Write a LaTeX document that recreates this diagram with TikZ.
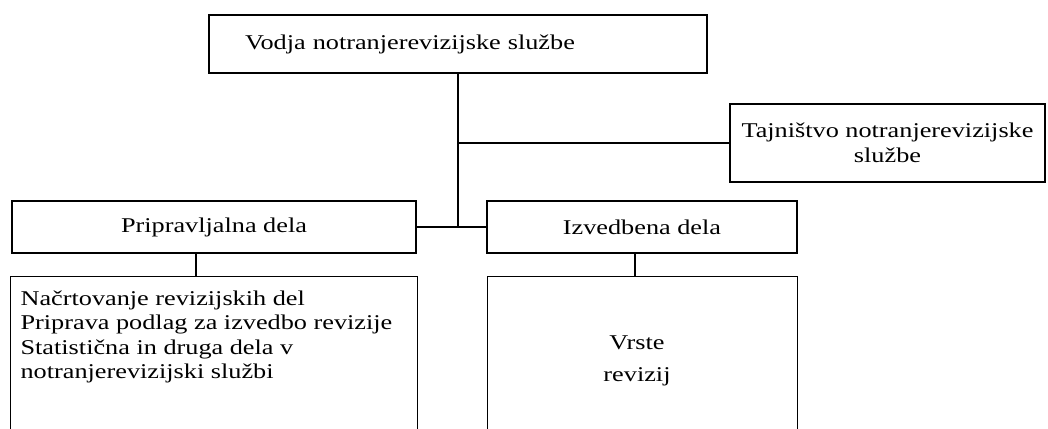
\documentclass[tikz,border=0pt]{standalone}
\usepackage{fontspec}
\setmainfont{Liberation Serif}[FakeStretch=1.25]

\begin{document}
\begin{tikzpicture}[x=1pt, y=-1pt, line width=1.2pt,
    box/.style={draw, rectangle, inner sep=0pt, font=\fontsize{21}{25}\selectfont},
    txt/.style={inner sep=0pt, font=\fontsize{21}{24.5}\selectfont}]
  \useasboundingbox (0,0) rectangle (1048,428);
  \clip (0,0) rectangle (1048,428);
  % top row
  \node [box, text width=426pt, inner xsep=36pt, minimum height=58pt,
    align=left] (vodja) at (458,44) {Vodja notranjerevizijske službe};
  \node [box, minimum width=315pt, minimum height=78pt, align=center]
    (tajnistvo) at (887.5,143) {Tajništvo notranjerevizijske\\službe};
  % middle row
  \node [box, minimum width=404pt, minimum height=52pt] (priprav) at
    (214,227) {Pripravljalna dela}; \node [box, minimum width=310pt,
    minimum height=52pt] (izvedb) at (642,227) {Izvedbena dela};
  % bottom row, boxes run past the page
  \node [box, minimum width=407pt, minimum height=200pt, anchor=north
    west] (nacrt) at (10,276) {}; \node [box, minimum width=310pt,
    minimum height=200pt, anchor=north west] (vrste) at (487,276) {};
  \node [txt, anchor=north west, align=left] (nacrttxt) at (20,290)
    {Načrtovanje revizijskih del\\Priprava podlag za izvedbo
    revizije\\Statistična in druga dela v\\notranjerevizijski službi};
  \node [txt, align=center, font=\fontsize{21}{32}\selectfont]
    (vrstetxt) at (637,361) {Vrste\\revizij};
  % connectors
  \coordinate (jl) at (196,0); \coordinate (jr) at (635,0);
  \coordinate (jmid) at (vodja.south |- priprav.east); \coordinate
    (jtaj) at (vodja.south |- tajnistvo.west);
  \draw (vodja.south) -- (jmid); \draw (priprav.east) -- (izvedb.west);
  \draw (jtaj) -- (tajnistvo.west); \draw (priprav.south -| jl) --
    (nacrt.north -| jl); \draw (izvedb.south -| jr) -- (vrste.north -|
    jr);
\end{tikzpicture}
\end{document}
